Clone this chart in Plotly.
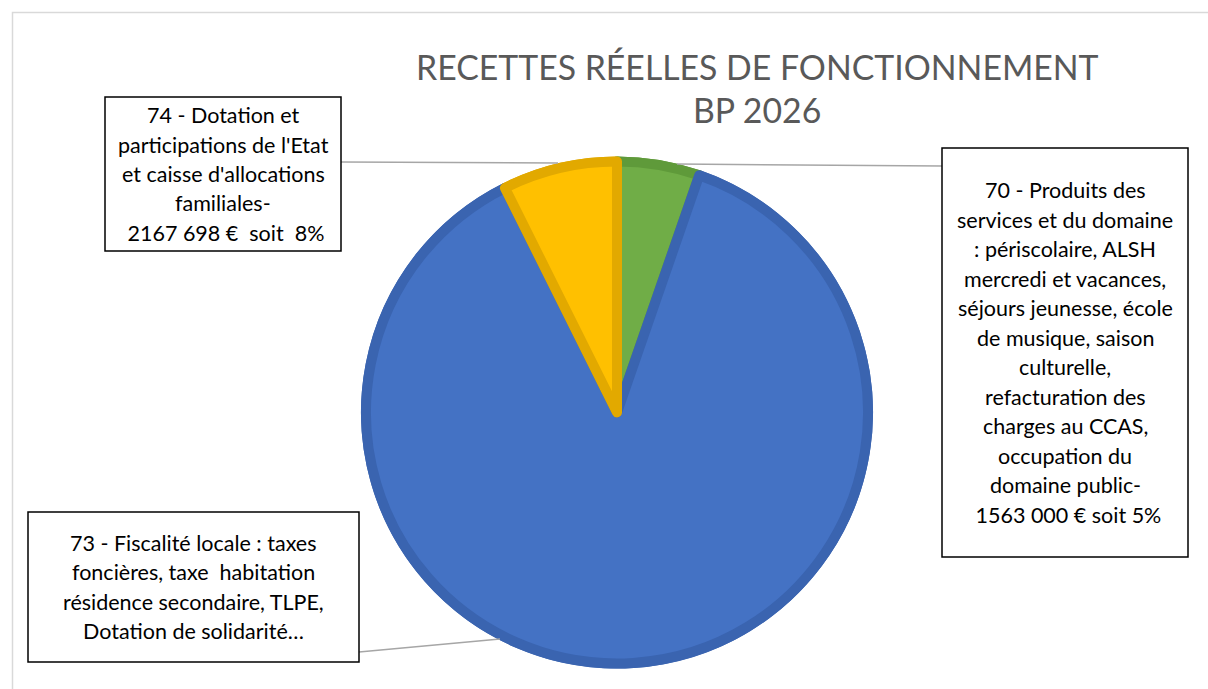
import plotly.graph_objects as go

# ---- data ----
categories = ["70 - Produits des services et du domaine",
              "73 - Fiscalité locale",
              "74 - Dotation et participations de l'Etat"]
values = [1563000, 25700000, 2167698]
fill_colors = ["#70AD47", "#4472C4", "#FFC000"]
edge_colors = ["#5F9A3A", "#3A64B0", "#E2A900"]

title_lines = ["RECETTES RÉELLES DE FONCTIONNEMENT", "BP 2026"]

label_70 = ["70 - Produits des", "services et du domaine", ": périscolaire, ALSH",
            "mercredi et vacances,", "séjours jeunesse, école", "de musique, saison",
            "culturelle,", "refacturation des", "charges au CCAS,", "occupation du",
            "domaine public-", " 1563 000 € soit 5%"]
label_73 = ["73 - Fiscalité locale : taxes", "foncières, taxe  habitation",
            "résidence secondaire, TLPE,", "Dotation de solidarité…"]
label_74 = ["74 - Dotation et", "participations de l'Etat", "et caisse d'allocations",
            "familiales-", " 2167 698 €  soit  8%"]

W, H = 1208, 689
CX, CY, R = 617, 412.5, 256
FONT = "Lato"


def dom(r):
    cyb = H - CY
    return dict(x=[(CX - r) / W, (CX + r) / W], y=[(cyb - r) / H, (cyb + r) / H])


fig = go.Figure()
# underlay giving the darker rim
fig.add_trace(go.Pie(values=values, labels=categories, sort=False, direction="clockwise",
                     rotation=0, domain=dom(R), textinfo="none", hoverinfo="label+value",
                     marker=dict(colors=edge_colors, line=dict(width=0)), showlegend=False))
# main slices with darker edges
fig.add_trace(go.Pie(values=values, labels=categories, sort=False, direction="clockwise",
                     rotation=0, domain=dom(R - 5), textinfo="none", hoverinfo="label+value",
                     marker=dict(colors=fill_colors, line=dict(color=edge_colors, width=10)),
                     showlegend=False))


def px(x):
    return x / W


def py(y):
    return 1 - y / H


shapes = []
annotations = []

# chart-area border
shapes.append(dict(type="rect", xref="paper", yref="paper", x0=px(12.5), y0=py(720),
                   x1=px(1240), y1=py(12.5), line=dict(color="#D9D9D9", width=1.5)))

# title
for txt, y in zip(title_lines, [67, 110]):
    annotations.append(dict(text=txt, xref="paper", yref="paper", x=px(757), y=py(y),
                            xanchor="center", yanchor="middle", showarrow=False,
                            font=dict(family=FONT, size=33.8, color="#595959", weight=400)))

# leader lines
leaders = [((341, 162), (558, 163)), ((677, 164), (942, 166)), ((359, 652), (500, 639))]
for (x0, y0), (x1, y1) in leaders:
    shapes.append(dict(type="line", xref="paper", yref="paper", x0=px(x0), y0=py(y0),
                       x1=px(x1), y1=py(y1), line=dict(color="#A6A6A6", width=1.5)))

boxes = [((105, 97, 341, 251), label_74),
         ((942, 148, 1188, 557), label_70),
         ((28, 512, 359, 662), label_73)]
for (x0, y0, x1, y1), lines in boxes:
    shapes.append(dict(type="rect", xref="paper", yref="paper", x0=px(x0), y0=py(y1),
                       x1=px(x1), y1=py(y0), line=dict(color="#000000", width=1.5),
                       fillcolor="white", layer="above"))
    n = len(lines)
    sp = 29.5
    cy = (y0 + y1) / 2
    for i, t in enumerate(lines):
        yy = cy + (i - (n - 1) / 2) * sp
        annotations.append(dict(text=t, xref="paper", yref="paper", x=px((x0 + x1) / 2),
                                y=py(yy), xanchor="center", yanchor="middle",
                                showarrow=False,
                                font=dict(family=FONT, size=21.5, color="#000000")))

fig.update_layout(width=W, height=H, margin=dict(l=0, r=0, t=0, b=0),
                  paper_bgcolor="white", plot_bgcolor="white",
                  shapes=shapes, annotations=annotations, showlegend=False)

fig.write_html("out.html")
